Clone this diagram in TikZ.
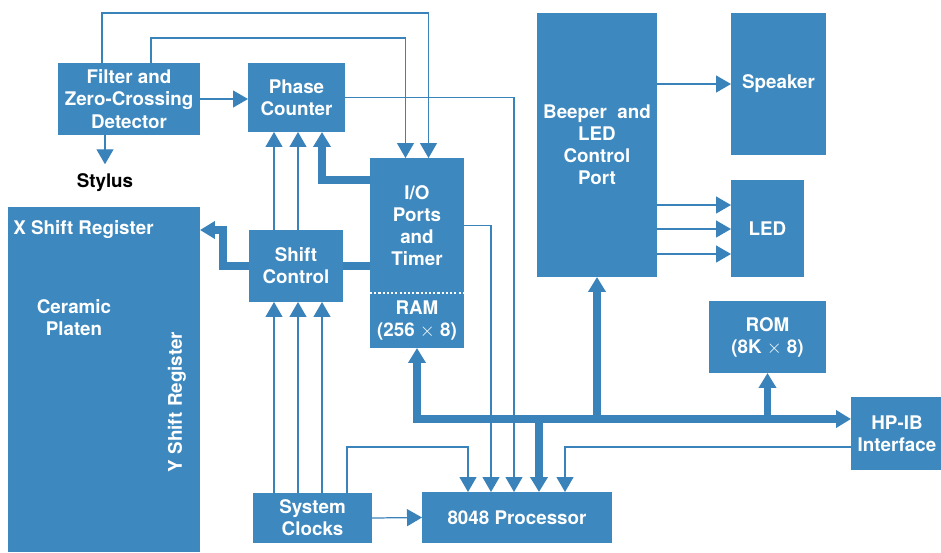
\documentclass[tikz,border=0pt]{standalone}
\usepackage{fontspec}
\setmainfont{TeX Gyre Heros}
\usetikzlibrary{arrows.meta,calc,positioning}
\definecolor{BoxBlue}{RGB}{61,136,190}
\definecolor{LineBlue}{RGB}{58,130,186}

\begin{document}
\begin{tikzpicture}[x=0.02cm,y=-0.02cm,>={Triangle[length=0.3cm,width=0.34cm]},
  blk/.style={fill=BoxBlue,text=white,inner sep=0pt,outer sep=0pt,align=center,
    font=\bfseries\fontsize{10.7}{12.6}\selectfont},
  lbl/.style={text=white,inner sep=0pt,align=center,font=\bfseries\fontsize{10.7}{12.6}\selectfont},
  ln/.style={draw=LineBlue,line width=0.7pt,->},
  bus/.style={draw=LineBlue,line width=4pt,->}]
  \useasboundingbox (0,0) rectangle (941,552);
  % blocks
  \node[blk,minimum width=2.84cm,minimum height=1.44cm] (filt) at (129,99) {Filter and\\Zero-Crossing\\Detector};
  \node[blk,minimum width=1.94cm,minimum height=1.38cm] (phase) at (296.5,97.5) {Phase\\Counter};
  \node[blk,minimum width=1.88cm,minimum height=2.7cm] (io) at (417,225.5) {I/O\\Ports\\and\\Timer};
  \node[blk,minimum width=1.88cm,minimum height=1.1cm] (ram) at (417,320.5) {RAM\\(256 $\times$ 8)};
  \node[blk,minimum width=1.88cm,minimum height=1.44cm] (shift) at (296,266) {Shift\\Control};
  \node[blk,minimum width=3.84cm,minimum height=6.9cm] (plate) at (104,379.5) {};
  \node[blk,minimum width=2.38cm,minimum height=1.0cm] (clocks) at (312.5,518) {System\\Clocks};
  \node[blk,minimum width=3.8cm,minimum height=1.02cm] (cpu) at (517,517.5) {8048 Processor};
  \node[blk,minimum width=2.4cm,minimum height=5.28cm] (beep) at (597,145) {Beeper~ and\\LED\\Control\\Port};
  \node[blk,minimum width=1.9cm,minimum height=2.84cm] (spk) at (778.5,84) {Speaker};
  \node[blk,minimum width=1.46cm,minimum height=1.94cm] (led) at (767.5,228.5) {LED};
  \node[blk,minimum width=2.34cm,minimum height=1.44cm] (rom) at (767.5,337) {ROM\\(8K $\times$ 8)};
  \node[blk,minimum width=1.84cm,minimum height=1.46cm] (hpib) at (897,433.5) {HP-IB\\Interface};
  \node[font=\bfseries\fontsize{10.7}{12.6}\selectfont] (styl) at (105,183) {Stylus};
  % labels on the platen
  \node[lbl,anchor=west] (xreg) at (13,230) {X Shift Register};
  \node[lbl] (cer) at (74,318) {Ceramic\\Platen};
  \node[lbl,rotate=90] (yreg) at (177,402) {Y Shift Register};
  \draw[white,line width=1.2pt,dash pattern=on 1.2pt off 1.2pt] (io.south west) -- (io.south east);
  % columns and rows
  \coordinate (t1) at (102,13);
  \coordinate (t2) at (151,38);
  \coordinate (c1) at (274,0);
  \coordinate (c2) at (298,0);
  \coordinate (c3) at (322,0);
  \coordinate (c4) at (347,0);
  \coordinate (p1) at (468,0);
  \coordinate (p2) at (491,0);
  \coordinate (p3) at (514,0);
  \coordinate (p4) at (539,0);
  \coordinate (p5) at (565,0);
  \coordinate (b) at (0,419);
  % thin connectors
  \draw[ln] (filt.east) -- (filt.east -| phase.west);
  \draw[ln,shorten >=2pt] (filt.south -| styl) -- (styl.north);
  \draw[ln] (filt.north -| t1) -- (t1) -| ([xshift=0.23cm]io.north);
  \draw[ln] (filt.north -| t2) -- (t2) -| ([xshift=-0.23cm]io.north);
  \draw[ln] (phase.east) -| (cpu.north -| p3);
  \draw[ln] (io.east) -| (cpu.north -| p2);
  \foreach \c in {c1,c2,c3}
    \draw[ln] (clocks.north -| \c) -- (shift.south -| \c);
  \foreach \c in {c1,c2}
    \draw[ln] (shift.north -| \c) -- (phase.south -| \c);
  \draw[ln] (clocks.north -| c4) -- ++(0,-46) -| (cpu.north -| p1);
  \draw[ln] (clocks.east) -- (cpu.west);
  \draw[ln] (hpib.west |- 0,447) -| (cpu.north -| p5);
  \draw[ln] (beep.east |- spk) -- (spk.west);
  \foreach \y in {205,229,254}
    \draw[ln] (beep.east |- 0,\y) -- (led.west |- 0,\y);
  % buses
  \draw[bus] (io.west |- 0,180) -| (phase.south -| c3);
  \draw[bus] (shift.west) -- ++(-26,0) |- (plate.east |- xreg);
  \draw[bus,-] (shift.east) -- (shift.east -| io.west);
  \draw[bus,<->] (ram.south) |- (hpib.west |- b);
  \draw[bus] (cpu.north -| p4) ++(0,-73) -- (cpu.north -| p4);
  \draw[bus] (beep.south |- b) -- (beep.south);
  \draw[bus] (rom.south |- b) -- (rom.south);
\end{tikzpicture}
\end{document}
